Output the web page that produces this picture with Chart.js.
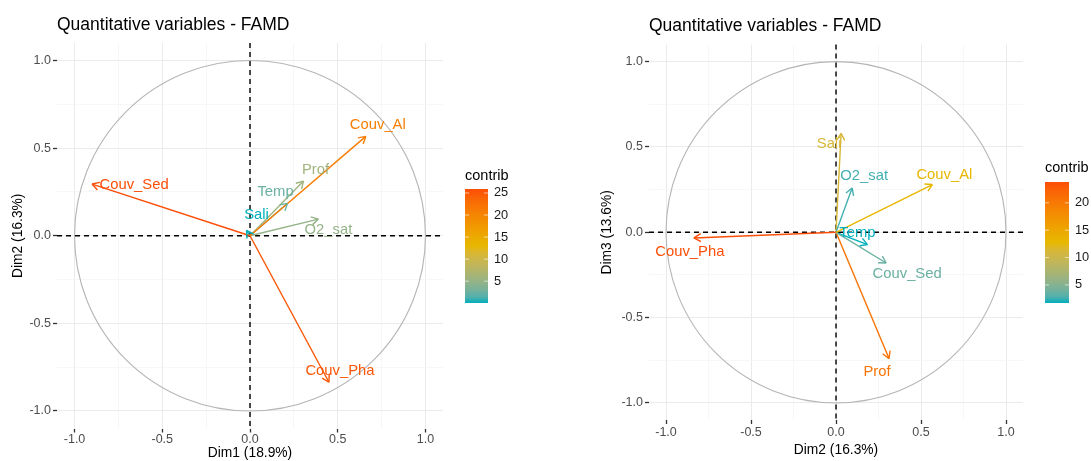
<!DOCTYPE html>
<html lang="en">
<head>
<meta charset="UTF-8">
<title>Quantitative variables - FAMD</title>
<script src="https://cdn.jsdelivr.net/npm/chart.js@4"></script>
<style>
  body { margin: 0; background: #fff; }
  .panel { position: absolute; top: 0; height: 461px; }
  #left { left: 0; width: 545px; }
  #right { left: 545px; width: 546px; }
</style>
</head>
<body>
<div class="panel" id="left"><canvas id="chartLeft" width="545" height="461"></canvas></div>
<div class="panel" id="right"><canvas id="chartRight" width="546" height="461"></canvas></div>
<script>
// variable coordinates on the FAMD dimensions
const varNames = ['Couv_Al', 'Couv_Sed', 'Couv_Pha', 'Prof', 'Temp', 'O2_sat', 'Sali'];
const dim1 = [0.66, -0.90, 0.45, 0.305, 0.214, 0.39, -0.02];
const dim2 = [0.567, 0.295, -0.836, 0.312, 0.185, 0.095, 0.03];
const dim3 = [0.28, -0.18, -0.033, -0.74, -0.072, 0.26, 0.58];

// contributions (%) for each pair of axes
const contribDim12 = [21.0, 25.9, 25.2, 5.8, 2.4, 4.9, 0.05];
const contribDim23 = [12.9, 3.7, 23.8, 20.6, 1.7, 2.5, 11.2];

const axisTicks = [-1, -0.5, 0, 0.5, 1];
const contribTicks = [5, 10, 15, 20, 25];
const gradientCols = ['#00AFBB', '#E7B800', '#FC4E07'];

Chart.defaults.font.family = "'Liberation Sans', Arial, sans-serif";

// --- colour ramp interpolated in CIELAB ---
function toLin(c) { c /= 255; return c <= 0.04045 ? c / 12.92 : Math.pow((c + 0.055) / 1.055, 2.4); }
function fromLin(c) { c = c <= 0.0031308 ? 12.92 * c : 1.055 * Math.pow(c, 1 / 2.4) - 0.055; return Math.round(Math.max(0, Math.min(1, c)) * 255); }
function hexToLab(hex) {
  const r = toLin(parseInt(hex.slice(1, 3), 16)), g = toLin(parseInt(hex.slice(3, 5), 16)), b = toLin(parseInt(hex.slice(5, 7), 16));
  const X = (0.4124 * r + 0.3576 * g + 0.1805 * b) / 0.95047;
  const Y = 0.2126 * r + 0.7152 * g + 0.0722 * b;
  const Z = (0.0193 * r + 0.1192 * g + 0.9505 * b) / 1.08883;
  const f = t => t > 0.008856 ? Math.cbrt(t) : 7.787 * t + 16 / 116;
  return [116 * f(Y) - 16, 500 * (f(X) - f(Y)), 200 * (f(Y) - f(Z))];
}
function labToRgb([L, a, bb]) {
  const fy = (L + 16) / 116, fx = fy + a / 500, fz = fy - bb / 200;
  const inv = t => t * t * t > 0.008856 ? t * t * t : (t - 16 / 116) / 7.787;
  const X = inv(fx) * 0.95047, Y = inv(fy), Z = inv(fz) * 1.08883;
  const r = 3.2406 * X - 1.5372 * Y - 0.4986 * Z;
  const g = -0.9689 * X + 1.8758 * Y + 0.0415 * Z;
  const b = 0.0557 * X - 0.2040 * Y + 1.0570 * Z;
  return `rgb(${fromLin(r)},${fromLin(g)},${fromLin(b)})`;
}
const stopLabs = gradientCols.map(hexToLab);
function rampColor(t) {
  t = Math.max(0, Math.min(1, t));
  const s = t * (stopLabs.length - 1);
  const i = Math.min(stopLabs.length - 2, Math.floor(s));
  const f = s - i;
  return labToRgb(stopLabs[i].map((v, k) => v + (stopLabs[i + 1][k] - v) * f));
}

const isMajor = v => axisTicks.some(t => Math.abs(t - v) < 1e-9);

// circle, dashed axes, arrow heads, labels and the colour bar
const famdPlugin = {
  id: 'famd',
  beforeDatasetsDraw(chart) {
    const { ctx, chartArea: a, scales: { x, y } } = chart;
    const cx = x.getPixelForValue(0), cy = y.getPixelForValue(0);
    const rx = x.getPixelForValue(1) - cx, ry = cy - y.getPixelForValue(1);
    ctx.save();
    ctx.strokeStyle = '#B5B5B5';
    ctx.lineWidth = 1.1;
    ctx.beginPath();
    ctx.ellipse(cx, cy, rx, ry, 0, 0, 2 * Math.PI);
    ctx.stroke();
    ctx.setLineDash([5, 4]);
    ctx.strokeStyle = '#000';
    ctx.lineWidth = 1.4;
    ctx.beginPath();
    ctx.moveTo(a.left, cy); ctx.lineTo(a.right, cy);
    ctx.moveTo(cx, a.top); ctx.lineTo(cx, a.bottom);
    ctx.stroke();
    ctx.restore();
  },
  afterDatasetsDraw(chart, args, opts) {
    const { ctx } = chart;
    ctx.save();
    ctx.font = "14.8px 'Liberation Sans', Arial, sans-serif";
    ctx.textAlign = 'center';
    ctx.textBaseline = 'middle';
    chart.data.datasets.forEach((ds, i) => {
      const [p0, p1] = chart.getDatasetMeta(i).data;
      const ang = Math.atan2(p1.y - p0.y, p1.x - p0.x);
      ctx.strokeStyle = ds.borderColor;
      ctx.lineWidth = 1.4;
      ctx.beginPath();
      for (const d of [-Math.PI / 6, Math.PI / 6]) {
        ctx.moveTo(p1.x, p1.y);
        ctx.lineTo(p1.x - 8 * Math.cos(ang + d), p1.y - 8 * Math.sin(ang + d));
      }
      ctx.stroke();
      const [nx, ny] = opts.nudge[i];
      ctx.fillStyle = ds.borderColor;
      ctx.fillText(ds.label, p1.x + nx, p1.y + ny);
    });

    // colour bar legend
    const { bar, range } = opts;
    ctx.fillStyle = '#000';
    ctx.textAlign = 'left';
    ctx.font = "14.5px 'Liberation Sans', Arial, sans-serif";
    ctx.fillText('contrib', bar.x, bar.titleY);
    const grad = ctx.createLinearGradient(0, bar.y + bar.h, 0, bar.y);
    for (let k = 0; k <= 20; k++) grad.addColorStop(k / 20, rampColor(k / 20));
    ctx.fillStyle = grad;
    ctx.fillRect(bar.x, bar.y, bar.w, bar.h);
    ctx.font = "12.8px 'Liberation Sans', Arial, sans-serif";
    ctx.strokeStyle = 'rgba(255,255,255,0.75)';
    ctx.lineWidth = 0.8;
    contribTicks.forEach(v => {
      if (v < range[0] || v > range[1]) return;
      const ty = bar.y + bar.h - (v - range[0]) / (range[1] - range[0]) * bar.h;
      ctx.beginPath();
      ctx.moveTo(bar.x, ty); ctx.lineTo(bar.x + 4, ty);
      ctx.moveTo(bar.x + bar.w - 4, ty); ctx.lineTo(bar.x + bar.w, ty);
      ctx.stroke();
      ctx.fillStyle = '#1A1A1A';
      ctx.fillText(String(v), bar.x + bar.w + 6, ty);
    });
    ctx.restore();
  }
};

function axisOptions(title, size, horizontal, titlePad, tickPad) {
  return {
    type: 'linear',
    min: -1.1,
    max: 1.1,
    border: { display: false },
    ticks: {
      stepSize: 0.25,
      includeBounds: false,
      autoSkip: false,
      maxRotation: 0,
      padding: tickPad,
      color: '#4D4D4D',
      font: { size: 12.5 },
      callback: v => isMajor(v) ? v.toFixed(1) : ''
    },
    grid: {
      color: c => c.tick && isMajor(c.tick.value) ? '#EBEBEB' : '#F3F3F3',
      lineWidth: c => c.tick && isMajor(c.tick.value) ? 1 : 0.7,
      tickColor: c => c.tick && isMajor(c.tick.value) ? '#333' : 'rgba(0,0,0,0)',
      tickLength: 4,
      tickWidth: 1.3
    },
    title: { display: true, text: title, color: '#000', font: { size: 13.8 }, padding: titlePad },
    afterFit: s => { if (horizontal) s.height = size; else s.width = size; }
  };
}

function makeChart(id, xs, ys, contrib, cfg) {
  const lo = Math.min(...contrib), hi = Math.max(...contrib);
  const datasets = varNames.map((name, i) => ({
    label: name,
    data: [{ x: 0, y: 0 }, { x: xs[i], y: ys[i] }],
    showLine: true,
    borderColor: rampColor((contrib[i] - lo) / (hi - lo)),
    borderWidth: 1.4,
    pointRadius: 0,
    fill: false
  }));
  return new Chart(document.getElementById(id), {
    type: 'scatter',
    data: { datasets },
    options: {
      responsive: false,
      animation: false,
      layout: { padding: cfg.padding },
      plugins: {
        legend: { display: false },
        tooltip: { enabled: false },
        title: {
          display: true,
          text: 'Quantitative variables - FAMD',
          align: 'start',
          fullSize: false,
          color: '#000',
          font: { size: 17.5, weight: 'normal' },
          padding: cfg.titlePad
        },
        famd: { nudge: cfg.nudge, bar: cfg.bar, range: [lo, hi] }
      },
      scales: {
        x: axisOptions(cfg.xTitle, cfg.xHeight, true, { top: 0, bottom: cfg.xTitleBottom }, cfg.xTickPad),
        y: axisOptions(cfg.yTitle, cfg.yWidth, false, { top: 10, bottom: 0 }, 2)
      }
    },
    plugins: [famdPlugin]
  });
}

makeChart('chartLeft', dim1, dim2, contribDim12, {
  xTitle: 'Dim1 (18.9%)', yTitle: 'Dim2 (16.3%)',
  padding: { left: 0, right: 102, top: 0, bottom: 0 },
  titlePad: { top: 15, bottom: 7 },
  xHeight: 32.5, yWidth: 57, xTitleBottom: 0, xTickPad: 0,
  nudge: [[12, -11], [42, 1], [11, -11], [12, -11], [-12, -11], [10, 11], [10, -16]],
  bar: { x: 465, y: 189, w: 23, h: 114, titleY: 176 }
});

makeChart('chartRight', dim2, dim3, contribDim23, {
  xTitle: 'Dim2 (16.3%)', yTitle: 'Dim3 (13.6%)',
  padding: { left: 44, right: 68, top: 0, bottom: 0 },
  titlePad: { top: 16, bottom: 7.6 },
  xHeight: 41, yWidth: 60, xTitleBottom: 3, xTickPad: 1,
  nudge: [[12, -10], [21, 11], [-4, 14], [-12, 13], [-10, -12], [12, -12], [-12, 11]],
  bar: { x: 500, y: 182, w: 24, h: 121, titleY: 168 }
});
</script>
</body>
</html>
